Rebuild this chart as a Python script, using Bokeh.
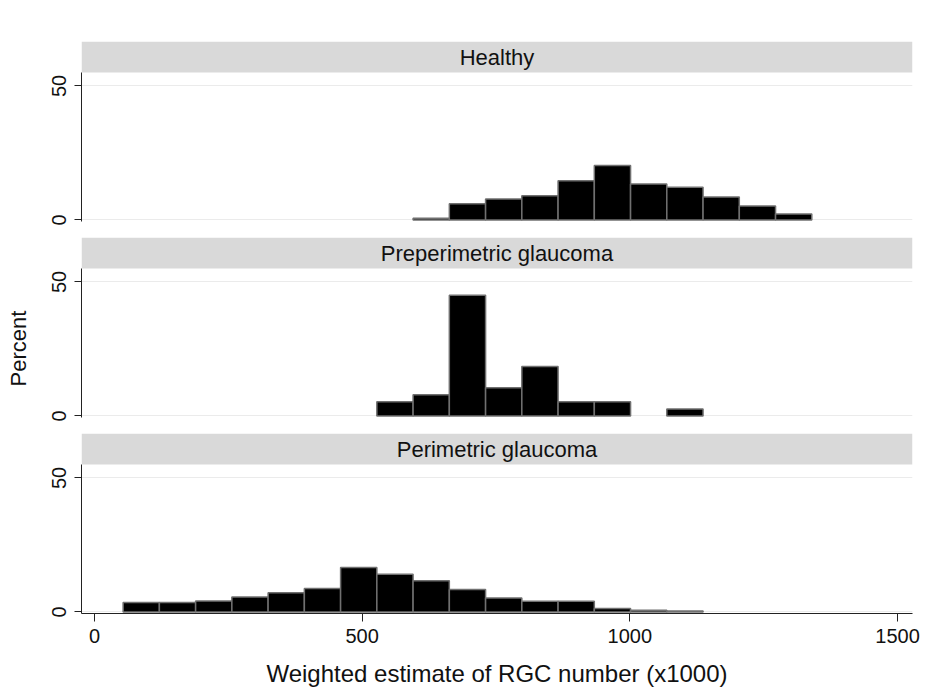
from bokeh.plotting import figure
from bokeh.models import (ColumnDataSource, Range1d, FixedTicker, BoxAnnotation,
                          Label, Title)
from bokeh.layouts import column
from bokeh.embed import file_html
from bokeh.resources import INLINE

# ---- data ----
bin_edges = [53.5, 121.2, 188.9, 256.6, 324.3, 392.0, 459.7, 527.4, 595.1, 662.8,
             730.5, 798.2, 865.9, 933.6, 1001.3, 1069.0, 1136.7, 1204.4, 1272.1, 1339.8]
panel_names = ["Healthy", "Preperimetric glaucoma", "Perimetric glaucoma"]
healthy = [0, 0, 0, 0, 0, 0, 0, 0, 0.6, 6.0, 7.8, 9.0, 14.6, 20.3, 13.4, 12.2, 8.5, 5.2, 2.2]
preperimetric = [0, 0, 0, 0, 0, 0, 0, 5.3, 7.9, 45.0, 10.5, 18.4, 5.3, 5.3, 0, 2.6, 0, 0, 0]
perimetric = [3.5, 3.5, 4.1, 5.6, 7.1, 8.7, 16.6, 14.0, 11.6, 8.4, 5.2, 4.0, 4.0, 1.3, 0.6, 0.3, 0, 0, 0]
x_ticks = [0, 500, 1000, 1500]
y_ticks = [0, 50]
x_title = "Weighted estimate of RGC number (x1000)"
y_title = "Percent"

FONT = "Liberation Sans"
X0, X1 = -24.25, 1527.9
Y0 = -0.6
FRAME_H = 180
Y1 = Y0 + FRAME_H / 2.68
HEADER_BOTTOM = Y1 - 31 / 2.68

x_range = Range1d(X0, X1)
series = [healthy, preperimetric, perimetric]
figs = []
for i, (name, vals) in enumerate(zip(panel_names, series)):
    last = i == 2
    top_b = 41 if i == 0 else 0
    bot_b = 81 if last else 16
    p = figure(width=946, height=top_b + FRAME_H + bot_b, x_range=x_range,
               y_range=Range1d(Y0, Y1), output_backend="svg", toolbar_location=None,
               x_axis_location="below" if last else None,
               min_border_left=80, min_border_right=34,
               min_border_top=top_b, min_border_bottom=bot_b)
    p.outline_line_color = None
    p.background_fill_color = "white"
    p.border_fill_color = "white"

    # header strip
    p.add_layout(BoxAnnotation(bottom=HEADER_BOTTOM, fill_color="#d9d9d9", fill_alpha=1,
                               line_color=None, level="underlay"))
    p.add_layout(Label(x=(X0 + X1) / 2, y=(HEADER_BOTTOM + Y1) / 2, text=name,
                       text_align="center", text_baseline="middle",
                       text_font=FONT, text_font_size="22px", text_color="#111111"))

    left = [bin_edges[k] for k, v in enumerate(vals) if v > 0]
    right = [bin_edges[k + 1] for k, v in enumerate(vals) if v > 0]
    top = [v for v in vals if v > 0]
    src = ColumnDataSource(dict(left=left, right=right, top=top, bottom=[0] * len(top)))
    p.quad(left="left", right="right", bottom="bottom", top="top", source=src,
           fill_color="black", line_color="#707070", line_width=1.5)

    p.xgrid.visible = False
    p.ygrid.ticker = FixedTicker(ticks=y_ticks)
    p.ygrid.grid_line_color = "#ebebeb"
    p.ygrid.grid_line_width = 1

    ya = p.yaxis[0]
    ya.ticker = FixedTicker(ticks=y_ticks)
    ya.bounds = (Y0, HEADER_BOTTOM)
    ya.axis_line_color = "#222222"
    ya.major_tick_line_color = "#222222"
    ya.major_tick_out = 7
    ya.major_tick_in = 0
    ya.minor_tick_line_color = None
    ya.major_label_orientation = "vertical"
    ya.major_label_text_font = FONT
    ya.major_label_text_font_size = "20px"
    ya.major_label_text_color = "#111111"
    ya.major_label_standoff = 8

    if last:
        xa = p.xaxis[0]
        xa.ticker = FixedTicker(ticks=x_ticks)
        xa.axis_line_color = "#222222"
        xa.major_tick_line_color = "#222222"
        xa.major_tick_out = 8
        xa.major_tick_in = 0
        xa.minor_tick_line_color = None
        xa.major_label_text_font = FONT
        xa.major_label_text_font_size = "20px"
        xa.major_label_text_color = "#111111"
        xa.major_label_standoff = 7
        xa.axis_label = x_title
        xa.axis_label_text_font = FONT
        xa.axis_label_text_font_size = "24px"
        xa.axis_label_text_font_style = "normal"
        xa.axis_label_text_color = "#111111"
        xa.axis_label_standoff = 14

    if i == 1:
        # small blank spacer between tick labels and the "Percent" title
        ya.axis_label = " "
        ya.axis_label_text_font_size = "1px"
        ya.axis_label_standoff = 8
        t = Title(text=y_title, align="left", offset=31, vertical_align="top",
                  text_font=FONT, text_font_size="22px", text_font_style="normal",
                  text_color="#111111")
        p.add_layout(t, "left")
    figs.append(p)

layout = column(*figs, spacing=0)
open("out.html", "w").write(file_html(layout, INLINE))
